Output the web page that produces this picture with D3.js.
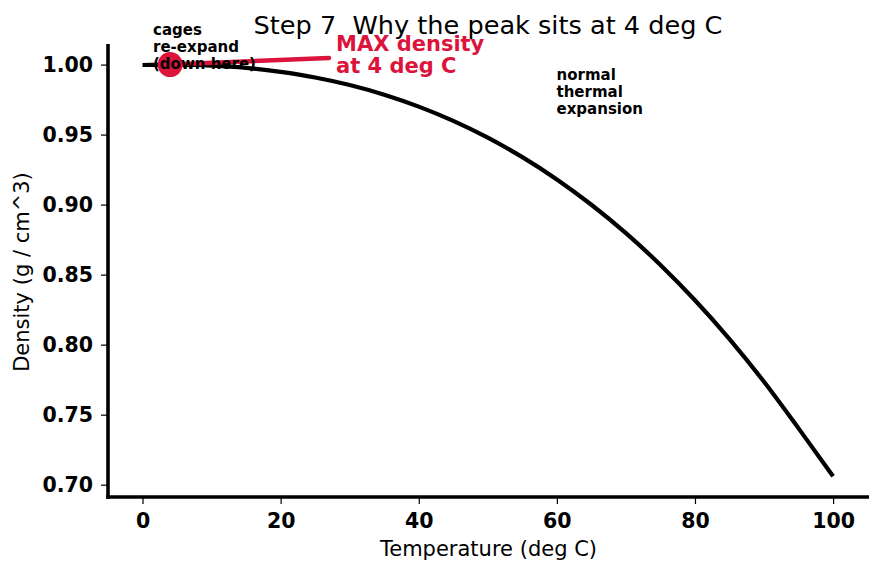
<!DOCTYPE html>
<html><head><meta charset="utf-8">
<script src="https://cdn.jsdelivr.net/npm/d3@7"></script>
<style>
body{margin:0;background:#fff}
svg{display:block}
text{font-family:"DejaVu Sans",sans-serif}
</style></head>
<body><svg id="chart" width="881" height="573"></svg>
<script>
// ---- data ----
const temperature = [0, 4, 5, 10, 15, 20, 25, 30, 35, 40, 45, 50, 55, 60, 65, 70, 75, 80, 85, 90, 95, 100];
const density     = [0.9997, 1.0000, 1.0000, 0.9993, 0.9977, 0.9948, 0.9908, 0.9854, 0.9785, 0.9700, 0.9598, 0.9478, 0.9339, 0.9180, 0.8999, 0.8796, 0.8569, 0.8317, 0.8040, 0.7735, 0.7402, 0.7060];
const xTicks = [0, 20, 40, 60, 80, 100];
const yTicks = [0.70, 0.75, 0.80, 0.85, 0.90, 0.95, 1.00];
const peakTemp = 4, peakDensity = 1.0;
const titleText = "Step 7  Why the peak sits at 4 deg C";
const xLabel = "Temperature (deg C)";
const yLabel = "Density (g / cm^3)";
const maxLines = ["MAX density", "at 4 deg C"];
const cageLines = ["cages", "re-expand", "(down here)"];
const normalLines = ["normal", "thermal", "expansion"];

const RED = "#DC143C";
const svg = d3.select("#chart");
const L = 108, R = 869, T = 44, B = 497;

const x = d3.scaleLinear().domain([-5, 105.2]).range([L, R]);
const y = d3.scaleLinear().domain([0.6912, 1.0147]).range([B, T]);

// curve
const line = d3.line().x((d,i)=>x(temperature[i])).y(d=>y(d)).curve(d3.curveMonotoneX);
svg.append("path").datum(density).attr("d", line)
  .attr("fill","none").attr("stroke","#000").attr("stroke-width",4.2);

// axes
const xAxis = svg.append("g").attr("transform",`translate(0,${B})`)
  .call(d3.axisBottom(x).tickValues(xTicks).tickFormat(d3.format("d")).tickSize(7).tickPadding(9).tickSizeOuter(0));
const yAxis = svg.append("g").attr("transform",`translate(${L},0)`)
  .call(d3.axisLeft(y).tickValues(yTicks).tickFormat(d3.format(".2f")).tickSize(7).tickPadding(8).tickSizeOuter(0));
[xAxis, yAxis].forEach(g=>{
  g.select(".domain").remove();
  g.selectAll(".tick line").attr("stroke","#000").attr("stroke-width",1.2);
  g.selectAll(".tick text").attr("fill","#000").style("font-family","'DejaVu Sans',sans-serif")
    .style("font-size","20.5px").style("font-weight","bold");
});
// spines
svg.append("line").attr("x1",L).attr("x2",L).attr("y1",T).attr("y2",B+1.75)
  .attr("stroke","#000").attr("stroke-width",3.6);
svg.append("line").attr("x1",L-1.75).attr("x2",R).attr("y1",B).attr("y2",B)
  .attr("stroke","#000").attr("stroke-width",3.6);

// annotation line + dot
svg.append("line").attr("x1",x(peakTemp)).attr("y1",y(peakDensity))
  .attr("x2",329).attr("y2",58)
  .attr("stroke",RED).attr("stroke-width",4.5).attr("stroke-linecap","round");
svg.append("circle").attr("cx",x(peakTemp)).attr("cy",y(peakDensity)).attr("r",12.5).attr("fill",RED);

// texts
svg.append("text").attr("x",488).attr("y",33.5).attr("text-anchor","middle")
  .style("font-size","25.6px").style("white-space","pre").attr("fill","#000").text(titleText);
svg.append("text").attr("x",488.5).attr("y",556).attr("text-anchor","middle")
  .style("font-size","21px").attr("fill","#000").text(xLabel);
svg.append("text").attr("transform","translate(29,272) rotate(-90)").attr("text-anchor","middle")
  .style("font-size","21px").attr("fill","#000").text(yLabel);

const maxT = svg.append("text").attr("fill",RED).style("font-size","21px").style("font-weight","bold");
maxLines.forEach((s,i)=>maxT.append("tspan").attr("x",336).attr("y",50.5+i*22.5).text(s));
const cageT = svg.append("text").attr("fill","#000").style("font-size","15px").style("font-weight","bold");
cageLines.forEach((s,i)=>cageT.append("tspan").attr("x",153).attr("y",35+i*17).text(s));
const normT = svg.append("text").attr("fill","#000").style("font-size","15px").style("font-weight","bold");
normalLines.forEach((s,i)=>normT.append("tspan").attr("x",556.5).attr("y",79.5+i*17).text(s));
</script>
</body></html>
